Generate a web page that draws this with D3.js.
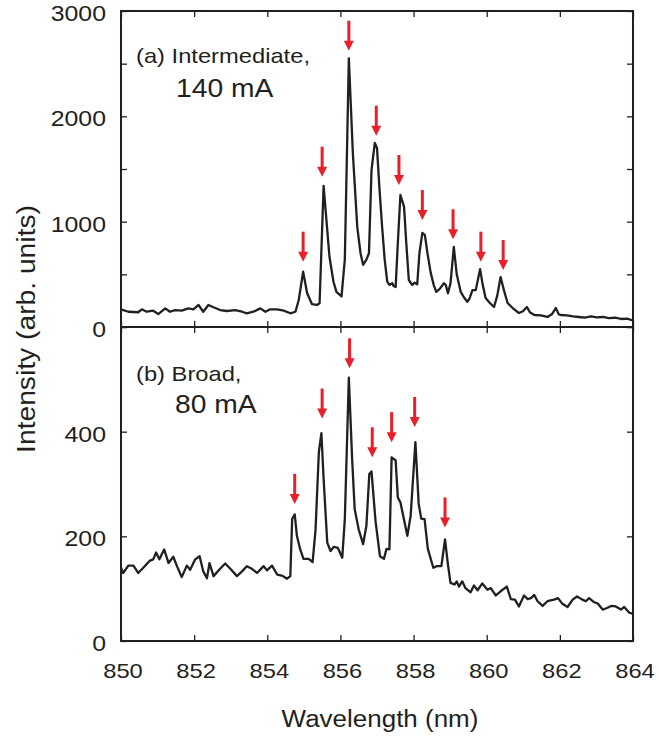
<!DOCTYPE html>
<html>
<head>
<meta charset="utf-8">
<script src="https://cdn.jsdelivr.net/npm/d3@7/dist/d3.min.js"></script>
<style>
  body { margin: 0; background: #fff; }
  svg { display: block; font-family: 'Liberation Sans', Arial, Helvetica, sans-serif; }
</style>
</head>
<body>
<div id="chart"></div>
<script>
// (a) intermediate, 140 mA
const waveA = [850.00, 850.20, 850.47, 850.57, 850.70, 850.88, 851.02, 851.21, 851.34, 851.48,
  851.66, 851.84, 851.98, 852.12, 852.25, 852.39, 852.53, 852.71, 852.90, 853.12,
  853.31, 853.44, 853.62, 853.81, 853.95, 854.08, 854.27, 854.45, 854.63, 854.77,
  854.86, 854.98, 855.09, 855.22, 855.36, 855.43, 855.54, 855.70, 855.81, 855.89,
  856.03, 856.12, 856.23, 856.34, 856.46, 856.55, 856.62, 856.71, 856.78, 856.85,
  856.94, 857.00, 857.07, 857.14, 857.21, 857.28, 857.34, 857.42, 857.45, 857.51,
  857.57, 857.64, 857.74, 857.80, 857.87, 857.96, 858.03, 858.10, 858.16, 858.24,
  858.31, 858.38, 858.47, 858.55, 858.62, 858.71, 858.83, 858.88, 858.94, 859.01,
  859.10, 859.18, 859.29, 859.38, 859.47, 859.53, 859.61, 859.70, 859.82, 859.89,
  859.97, 860.08, 860.20, 860.29, 860.38, 860.47, 860.57, 860.71, 860.88, 860.99,
  861.10, 861.18, 861.30, 861.48, 861.66, 861.78, 861.89, 861.97, 862.03, 862.19,
  862.36, 862.52, 862.68, 862.85, 863.01, 863.18, 863.34, 863.51, 863.67, 863.84, 864.00]
const intA = [168, 145, 140, 168, 145, 155, 123, 177, 145, 161,
  155, 177, 168, 209, 145, 209, 187, 161, 152, 161,
  145, 130, 145, 177, 145, 168, 168, 155, 130, 145,
  256, 525, 320, 218, 209, 225, 1339, 667, 430, 333,
  290, 640, 2551, 1650, 950, 700, 590, 640, 700, 1490,
  1747, 1700, 1300, 950, 640, 430, 400, 415, 390, 380,
  800, 1253, 1140, 800, 446, 400, 420, 405, 700, 894,
  873, 700, 512, 400, 333, 360, 415, 400, 320, 415,
  760, 500, 333, 280, 240, 270, 350, 350, 550, 400,
  275, 230, 190, 300, 474, 350, 228, 180, 133, 150,
  190, 140, 114, 110, 95, 120, 180, 120, 114, 110,
  100, 95, 88, 100, 92, 95, 85, 88, 76, 80, 62]

// (b) broad, 80 mA
const waveB = [850.00, 850.06, 850.20, 850.34, 850.47, 850.61, 850.78, 850.88, 850.96, 851.05,
  851.18, 851.30, 851.43, 851.53, 851.66, 851.80, 851.89, 852.03, 852.15, 852.25,
  852.35, 852.42, 852.53, 852.71, 852.85, 852.99, 853.17, 853.31, 853.44, 853.58,
  853.72, 853.90, 853.99, 854.13, 854.27, 854.40, 854.54, 854.63, 854.68, 854.75,
  854.81, 854.90, 854.99, 855.13, 855.24, 855.32, 855.41, 855.48, 855.54, 855.64,
  855.73, 855.82, 855.93, 856.05, 856.12, 856.23, 856.32, 856.39, 856.50, 856.62,
  856.71, 856.79, 856.85, 856.96, 857.08, 857.19, 857.26, 857.34, 857.40, 857.51,
  857.57, 857.64, 857.83, 857.92, 858.05, 858.14, 858.21, 858.30, 858.39, 858.54,
  858.63, 858.76, 858.86, 858.94, 859.01, 859.12, 859.18, 859.24, 859.33, 859.42,
  859.56, 859.65, 859.75, 859.88, 860.02, 860.11, 860.25, 860.38, 860.55, 860.66,
  860.77, 860.88, 861.02, 861.12, 861.21, 861.30, 861.39, 861.53, 861.66, 861.84,
  861.95, 862.07, 862.21, 862.35, 862.47, 862.59, 862.71, 862.80, 862.94, 863.03,
  863.17, 863.29, 863.40, 863.53, 863.67, 863.76, 863.90, 864.00]
const intB = [140, 130, 144, 144, 130, 140, 153, 156, 169, 156,
  175, 149, 161, 143, 122, 144, 136, 156, 162, 133,
  120, 149, 124, 138, 148, 138, 124, 133, 143, 138,
  130, 143, 135, 144, 127, 125, 119, 124, 233, 242,
  201, 175, 157, 157, 151, 213, 361, 397, 310, 188,
  172, 180, 178, 159, 233, 503, 348, 252, 213, 185,
  220, 319, 324, 229, 162, 157, 176, 175, 351, 345,
  274, 265, 201, 239, 380, 262, 234, 233, 176, 140,
  143, 143, 194, 146, 111, 108, 114, 104, 114, 101,
  93, 106, 97, 110, 98, 101, 87, 95, 104, 80,
  79, 66, 87, 80, 82, 88, 76, 67, 76, 79,
  82, 71, 65, 79, 85, 80, 76, 82, 74, 72,
  60, 63, 67, 66, 60, 65, 54, 52]

// red arrows: wavelength and intensity at the arrow tip
const arrowWaveA = [854.98, 855.50, 856.23, 856.98, 857.60, 858.24, 859.08, 859.84, 860.45]
const arrowTipA = [620, 1427, 2623, 1816, 1348, 1016, 833, 620, 541]
const arrowWaveB = [854.75, 855.50, 856.25, 856.87, 857.40, 858.03, 858.86]
const arrowTipB = [262, 425, 521, 351, 380, 409, 217]

const xTicks = [850, 852, 854, 856, 858, 860, 862, 864]
const yTicksA = [0, 500, 1000, 1500, 2000, 2500, 3000]
const yLabelsA = [0, 1000, 2000, 3000]
const yTicksB = [0, 200, 400, 600]
const yLabelsB = [0, 200, 400]

const width = 659
const height = 737
const left = 121, right = 633
const topA = 11, midY = 327, botB = 641
const SX = 1.13 // the original lettering is a bit wider than Arial
const inkColor = '#231f20'
const arrowColor = '#e8202a'

const svg = d3.select('#chart')
    .append('svg')
    .attr('width', width)
    .attr('height', height)

const x = d3.scaleLinear().domain([850, 864]).range([left, right])
const yA = d3.scaleLinear().domain([0, 3000]).range([midY, topA])
const yB = d3.scaleLinear().domain([0, 600]).range([botB, midY])

function label(sel, px, py, txt, size, anchor, rot) {
    let t = sel.append('text')
        .attr('transform', `translate(${px},${py})` + (rot ? ' rotate(-90)' : '') + ` scale(${SX},1)`)
        .attr('font-size', size)
        .attr('text-anchor', anchor)
        .attr('fill', inkColor)
        .text(txt)
    return t
}

function drawPanel(y, ticksY, labelsY, wave, inten, arrowWave, arrowTip) {
    let g = svg.append('g')
    let y0 = y.range()[0], y1 = y.range()[1]

    // ticks, all pointing inside the frame
    g.append('g').attr('transform', `translate(0,${y0})`)
        .call(d3.axisBottom(x).tickValues(xTicks).tickSize(-6).tickFormat(''))
    g.append('g').attr('transform', `translate(0,${y1})`)
        .call(d3.axisTop(x).tickValues(xTicks).tickSize(-6).tickFormat(''))
    g.append('g').attr('transform', `translate(${left},0)`)
        .call(d3.axisLeft(y).tickValues(ticksY).tickSize(-6).tickFormat(''))
    g.append('g').attr('transform', `translate(${right},0)`)
        .call(d3.axisRight(y).tickValues(ticksY).tickSize(-6).tickFormat(''))
    g.selectAll('.domain').remove()
    g.selectAll('.tick line').attr('stroke', inkColor).attr('stroke-width', 1.3)

    // spectrum
    let pts = d3.zip(wave, inten)
    g.append('path')
        .datum(pts)
        .attr('fill', 'none')
        .attr('stroke', inkColor)
        .attr('stroke-width', 2.3)
        .attr('stroke-linejoin', 'round')
        .attr('d', d3.line().x((d) => x(d[0])).y((d) => y(d[1])))

    // arrows
    let arrows = g.selectAll('.arrow')
        .data(d3.zip(arrowWave, arrowTip))
        .join('g')
        .attr('transform', (d) => `translate(${x(d[0])},${y(d[1])})`)
    arrows.append('rect')
        .attr('x', -1.5).attr('y', -30).attr('width', 3).attr('height', 21)
        .attr('fill', arrowColor)
    arrows.append('path')
        .attr('d', 'M-5 -10 L5 -10 L0 0 Z')
        .attr('fill', arrowColor)

    // y labels
    labelsY.forEach(function (v) {
        label(svg, 106, y(v) + 10, v, 22, 'end')
    })

    // frame
    svg.append('rect')
        .attr('x', left).attr('y', y1)
        .attr('width', right - left).attr('height', y0 - y1)
        .attr('fill', 'none')
        .attr('stroke', inkColor)
        .attr('stroke-width', 2)
}

drawPanel(yA, yTicksA, yLabelsA, waveA, intA, arrowWaveA, arrowTipA)
drawPanel(yB, yTicksB, yLabelsB, waveB, intB, arrowWaveB, arrowTipB)

// x labels
xTicks.forEach(function (v) {
    label(svg, x(v) + 2, 678, v, 21, 'middle')
})

// panel notes
label(svg, 136, 63, '(a) Intermediate,', 21, 'start')
label(svg, 176, 97, '140 mA', 25, 'start')
label(svg, 136, 381, '(b) Broad,', 21, 'start')
label(svg, 175, 413, '80 mA', 25, 'start')

// axis titles
label(svg, 380, 727, 'Wavelength (nm)', 23, 'middle')
label(svg, 35, 329, 'Intensity (arb. units)', 25, 'middle', true)
</script>
</body>
</html>
